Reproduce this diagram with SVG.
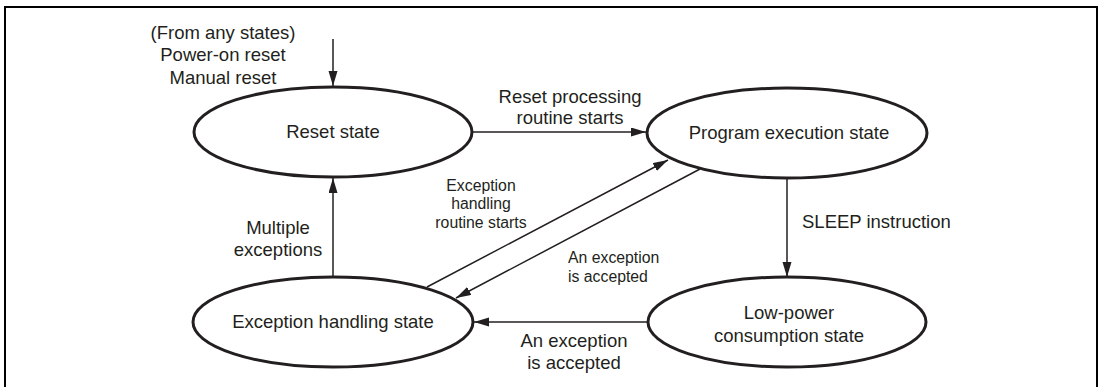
<svg xmlns="http://www.w3.org/2000/svg" width="1102" height="387" viewBox="0 0 1102 387">
<style>
text{font-family:"Liberation Sans",Arial,sans-serif;fill:#231f20;font-size:18.5px}
.s{font-size:15.8px}
.m{text-anchor:middle}
.node ellipse{fill:#fff;stroke:#231f20;stroke-width:3}
.c line{stroke:#231f20;stroke-width:1.5}
</style>
<defs>
<marker id="ah" markerUnits="userSpaceOnUse" markerWidth="16" markerHeight="10" refX="15" refY="4.5" orient="auto">
<path d="M0,0 L15,4.5 L0,9 Z" fill="#231f20"/>
</marker>
</defs>
<rect x="5" y="7" width="1092" height="390" fill="none" stroke="#000" stroke-width="2"/>
<g id="connectors" class="c">
<line x1="333" y1="39" x2="333" y2="86" marker-end="url(#ah)"/>
<line x1="473" y1="132" x2="646" y2="132" marker-end="url(#ah)"/>
<line x1="787" y1="178" x2="787" y2="277" marker-end="url(#ah)"/>
<line x1="648" y1="322" x2="474" y2="322" marker-end="url(#ah)"/>
<line x1="333" y1="277" x2="333" y2="178" marker-end="url(#ah)"/>
<line x1="427" y1="287" x2="668" y2="160" marker-end="url(#ah)"/>
<line x1="700" y1="169" x2="456" y2="298" marker-end="url(#ah)"/>
</g>
<g id="reset">
<g class="node"><ellipse cx="333" cy="132" rx="139" ry="45"/></g>
<text class="m" x="333" y="138">Reset state</text>
</g>
<g id="program">
<g class="node"><ellipse cx="787" cy="133" rx="140" ry="45"/></g>
<text class="m" x="789" y="139">Program execution state</text>
</g>
<g id="lowpower">
<g class="node"><ellipse cx="787" cy="322" rx="139" ry="45"/></g>
<text class="m" x="789" y="319">Low-power</text>
<text class="m" x="789" y="342">consumption state</text>
</g>
<g id="exception">
<g class="node"><ellipse cx="333" cy="322" rx="140" ry="45"/></g>
<text class="m" x="333" y="328">Exception handling state</text>
</g>
<g id="labels">
<text class="m" x="223" y="39">(From any states)</text>
<text class="m" x="223" y="61">Power-on reset</text>
<text class="m" x="223" y="84">Manual reset</text>
<text class="m" x="570" y="103">Reset processing</text>
<text class="m" x="570" y="124">routine starts</text>
<text x="802" y="228">SLEEP instruction</text>
<text class="m" x="278" y="234">Multiple</text>
<text class="m" x="278" y="256">exceptions</text>
<text class="m s" x="481" y="191">Exception</text>
<text class="m s" x="481" y="209">handling</text>
<text class="m s" x="481" y="228">routine starts</text>
<text class="s" x="568" y="263">An exception</text>
<text class="s" x="568" y="282">is accepted</text>
<text class="m" x="574" y="347">An exception</text>
<text class="m" x="574" y="369">is accepted</text>
</g>
</svg>
